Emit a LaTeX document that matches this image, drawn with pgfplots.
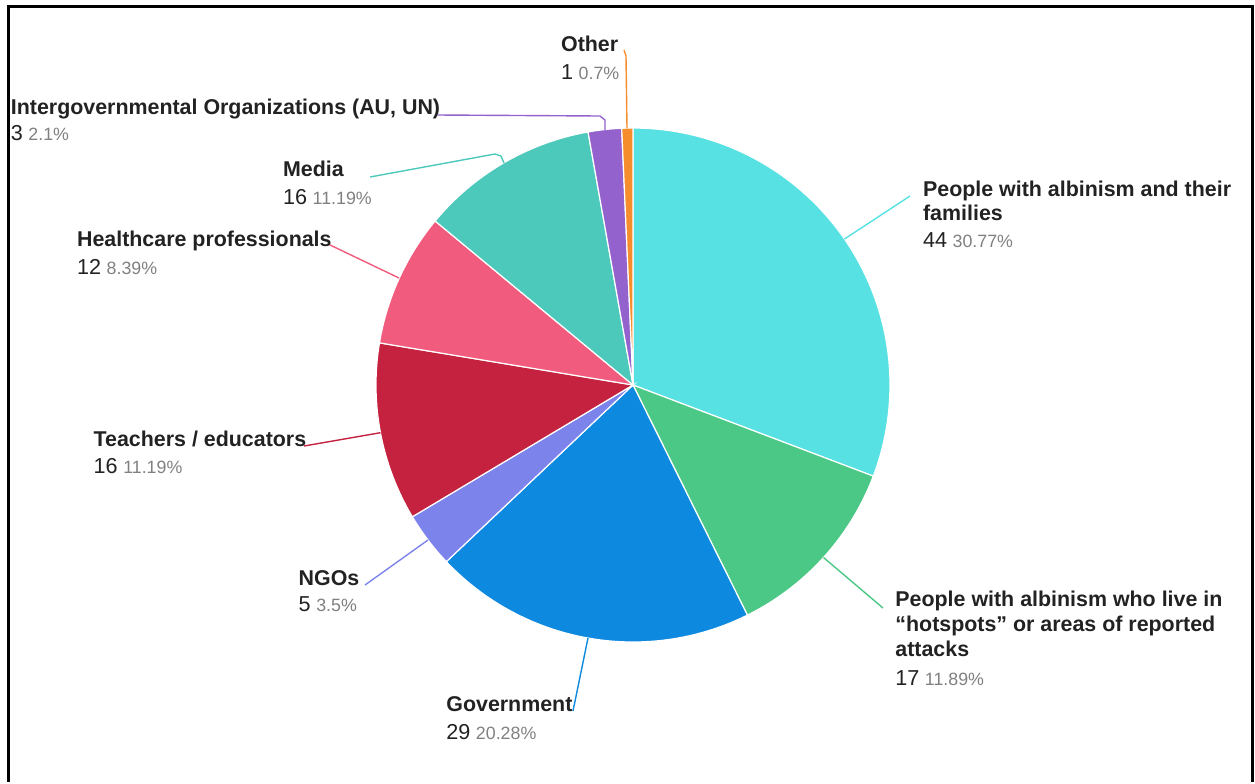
\documentclass[border=0pt]{standalone}
\usepackage{pgfplots}
\pgfplotsset{compat=1.18}
\usepackage{fontspec}
\setmainfont{Liberation Sans}

\definecolor{cFam}{HTML}{57E1E3}
\definecolor{cHot}{HTML}{4CC886}
\definecolor{cGov}{HTML}{0E89E0}
\definecolor{cNgo}{HTML}{7C84EC}
\definecolor{cTea}{HTML}{C52240}
\definecolor{cHea}{HTML}{F15B7E}
\definecolor{cMed}{HTML}{4DC9BC}
\definecolor{cInt}{HTML}{9462CD}
\definecolor{cOth}{HTML}{F68D2D}
\definecolor{txt}{HTML}{222222}
\definecolor{pct}{HTML}{808080}

\newcommand{\lbl}{\fontsize{10.7}{12}\selectfont\bfseries\color{txt}}
\newcommand{\val}[2]{{\fontsize{10.8}{12}\selectfont\color{txt}#1}\ {\fontsize{8.9}{10}\selectfont\color{pct}#2}}

% slice: #1 cumulative value before, #2 value, #3 colour ; total 143
\newcommand{\slice}[3]{%
  \pgfmathsetmacro\sa{90-(#1)/143*360}%
  \pgfmathsetmacro\sb{90-(#1+#2)/143*360}%
  \edef\tmp{\noexpand\addplot[fill=#3, draw=white, line width=0.6pt, domain=\sb:\sa, samples=80]
    ({633+257*cos(x)},{385-257*sin(x)}) -- (633,385) -- cycle;}%
  \tmp}

\begin{document}
\begin{tikzpicture}
\begin{axis}[scale only axis, width=627.5pt, height=391pt,
  xmin=0, xmax=1255, ymin=0, ymax=782, y dir=reverse,
  hide axis, clip=false]
\path (0,0) rectangle (1255,782);

% frame
\addplot[black, line width=1.5pt, mark=none] coordinates {(8,782) (8,6) (1252.5,6) (1252.5,782)};

% slices (values: 44,17,29,5,16,12,16,3,1)
\slice{0}{44}{cFam}
\slice{44}{17}{cHot}
\slice{61}{29}{cGov}
\slice{90}{5}{cNgo}
\slice{95}{16}{cTea}
\slice{111}{12}{cHea}
\slice{123}{16}{cMed}
\slice{139}{3}{cInt}
\slice{142}{1}{cOth}

% leader lines
\addplot[cFam, line width=0.7pt, mark=none] coordinates {(844.5,239) (910,196)};
\addplot[cHot, line width=0.7pt, mark=none] coordinates {(823.5,557.5) (883,608)};
\addplot[cGov, line width=0.7pt, mark=none] coordinates {(588,638) (573,711)};
\addplot[cNgo, line width=0.7pt, mark=none] coordinates {(428,540) (365,585)};
\addplot[cTea, line width=0.7pt, mark=none] coordinates {(380.5,432.7) (304,446)};
\addplot[cHea, line width=0.7pt, mark=none] coordinates {(399,278) (328,244)};
\addplot[cMed, line width=0.7pt, mark=none] coordinates {(504,163) (501,156) (495,154) (370,177)};
\addplot[cInt, line width=0.7pt, mark=none] coordinates {(605,130) (605,120) (600,116) (438,115)};
\addplot[cOth, line width=0.7pt, mark=none] coordinates {(627,128) (626,56) (624,50)};

% labels
\begin{scope}[every node/.style={anchor=base west, inner sep=0pt}]
\node at (922.7,196.7) {\lbl People with albinism and their};
\node at (922.7,220) {\lbl families};
\node at (922.7,247.3) {\val{44}{30.77\%}};

\node at (895,606.7) {\lbl People with albinism who live in};
\node at (895,631.5) {\lbl “hotspots” or areas of reported};
\node at (895,656.5) {\lbl attacks};
\node at (895,685) {\val{17}{11.89\%}};

\node at (446,711.7) {\lbl Government};
\node at (446,739) {\val{29}{20.28\%}};

\node at (298.3,585) {\lbl NGOs};
\node at (298.3,611.7) {\val{5}{3.5\%}};

\node at (93.3,446) {\lbl Teachers / educators};
\node at (93.3,473) {\val{16}{11.19\%}};

\node at (76.7,246) {\lbl Healthcare professionals};
\node at (76.7,274.5) {\val{12}{8.39\%}};

\node at (282.7,176.7) {\lbl Media};
\node at (282.7,204) {\val{16}{11.19\%}};

\node at (10.5,114) {\lbl Intergovernmental Organizations (AU, UN)};
\node at (10.5,140) {\val{3}{2.1\%}};

\node at (560.7,51.7) {\lbl Other};
\node at (560.7,79.3) {\val{1}{0.7\%}};
\end{scope}
\end{axis}
\end{tikzpicture}
\end{document}
